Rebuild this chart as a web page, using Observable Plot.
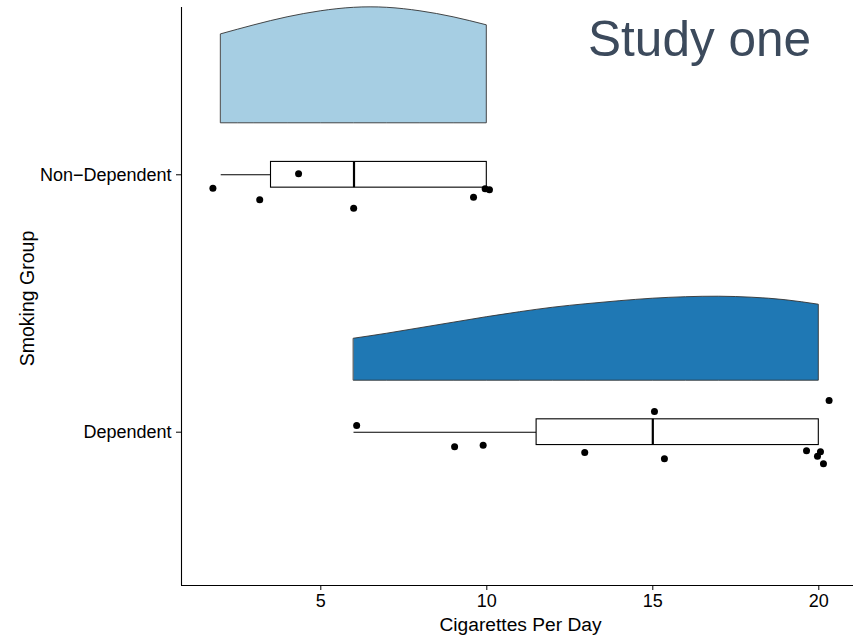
<!DOCTYPE html>
<html><head><meta charset="utf-8">
<script src="https://cdn.jsdelivr.net/npm/d3@7"></script>
<script src="https://cdn.jsdelivr.net/npm/@observablehq/plot@0.6"></script>
<style>body{margin:0;background:#fff;overflow:hidden} svg{display:block}</style>
</head><body><div id="chart"></div>
<script>
// ---- data ----
const groups = ["Non−Dependent", "Dependent"];
const groupFills = ["#a6cee3", "#1f78b4"];
const xTicks = [5, 10, 15, 20];
const xLabel = "Cigarettes Per Day";
const yLabel = "Smoking Group";
const titleText = "Study one";

// raw cigarettes-per-day values
const rawNonDep = [2, 3, 4, 6, 10, 10, 10];
const rawDep = [6, 9, 10, 13, 15, 15, 20, 20, 20, 20, 20];

// jittered positions of the points
const jitterXNonDep = [1.75, 3.16, 4.33, 5.99, 9.60, 9.95, 10.08];
const jitterYNonDep = [-0.052, -0.097, 0.004, -0.130, -0.087, -0.054, -0.058];
const jitterXDep = [6.08, 9.03, 9.89, 12.95, 15.05, 15.35, 19.63, 19.96, 20.05, 20.14, 20.31];
const jitterYDep = [0.026, -0.057, -0.051, -0.079, 0.080, -0.103, -0.072, -0.093, -0.076, -0.123, 0.123];

// density estimates (trimmed to the data range)
const densGridNonDep = [2, 3, 4, 5, 6, 7, 8, 9, 10];
const densNonDep = [0.089, 0.098, 0.106, 0.112, 0.1155, 0.1155, 0.112, 0.106, 0.098];
const densGridDep = [6, 7, 8, 9, 10, 11, 12, 13, 14, 15, 16, 17, 18, 19, 20];
const densDep = [0.042, 0.047, 0.0525, 0.058, 0.0635, 0.0685, 0.073, 0.0765, 0.0795, 0.082, 0.0835, 0.084, 0.083, 0.0805, 0.076];

// ---- layout constants ----
const W = 853, H = 641;
const xDomain = [0.804, 21.045];
const yDomain = [0.4044, 2.6499];
const densOffset = 0.2;     // gap between group line and density base
const densScale = 3.885;    // y-units per density unit
const boxHalf = 0.05;
const font = "'Liberation Sans', Arial, Helvetica, sans-serif";

const raw = [rawNonDep, rawDep];
const jx = [jitterXNonDep, jitterXDep];
const jy = [jitterYNonDep, jitterYDep];
const dg = [densGridNonDep, densGridDep];
const dv = [densNonDep, densDep];
const pos = i => groups.length - i; // Non-Dependent = 2, Dependent = 1

const boxes = groups.map((g, i) => {
  const v = raw[i].slice().sort(d3.ascending);
  const q1 = d3.quantile(v, 0.25), med = d3.quantile(v, 0.5), q3 = d3.quantile(v, 0.75);
  const iqr = q3 - q1;
  const lo = d3.min(v.filter(d => d >= q1 - 1.5 * iqr));
  const hi = d3.max(v.filter(d => d <= q3 + 1.5 * iqr));
  return {g, p: pos(i), q1, med, q3, lo, hi};
});

const points = groups.flatMap((g, i) => jx[i].map((x, k) => ({g, x, y: pos(i) + jy[i][k]})));

const densMarks = groups.map((g, i) => {
  const rows = dg[i].map((x, k) => ({x, y1: pos(i) + densOffset, y2: pos(i) + densOffset + dv[i][k] * densScale}));
  return Plot.areaY(rows, {x: "x", y1: "y1", y2: "y2", fill: groupFills[i], stroke: "#333", strokeWidth: 0.9, curve: "natural"});
});

const chart = Plot.plot({
  width: W, height: H,
  marginLeft: 181, marginRight: 0, marginTop: 7, marginBottom: 56,
  style: {fontFamily: font, fontSize: "18px", color: "black", background: "white"},
  x: {domain: xDomain, label: null},
  y: {domain: yDomain, label: null},
  marks: [
    ...densMarks,
    Plot.ruleY(boxes, {y: "p", x1: "lo", x2: "q1", stroke: "black", strokeWidth: 1.1}),
    Plot.ruleY(boxes, {y: "p", x1: "q3", x2: "hi", stroke: "black", strokeWidth: 1.1}),
    Plot.rect(boxes, {x1: "q1", x2: "q3", y1: d => d.p - boxHalf, y2: d => d.p + boxHalf, fill: "white", stroke: "black", strokeWidth: 1.1}),
    Plot.ruleX(boxes, {x: "med", y1: d => d.p - boxHalf, y2: d => d.p + boxHalf, stroke: "black", strokeWidth: 2.2}),
    Plot.dot(points, {x: "x", y: "y", r: 3.5, fill: "black", stroke: null}),
    Plot.ruleX([xDomain[0]], {stroke: "black", strokeWidth: 1.1}),
    Plot.ruleY([yDomain[0]], {stroke: "black", strokeWidth: 1.1}),
    Plot.axisX({ticks: xTicks, tickSize: 5, tickPadding: 4, fontSize: "18px", label: null}),
    Plot.axisY({ticks: groups.map((g, i) => pos(i)), tickFormat: d => groups[groups.length - d], tickSize: 5, tickPadding: 5, fontSize: "18px", label: null}),
    Plot.text([xLabel], {frameAnchor: "bottom", dy: 45, dx: 3, lineAnchor: "bottom", fontSize: 19.2, fill: "black"}),
    Plot.text([yLabel], {frameAnchor: "left", rotate: -90, dx: -148, dy: 2, lineAnchor: "bottom", textAnchor: "middle", fontSize: 19.5, fill: "black"}),
    Plot.text([titleText], {frameAnchor: "top-right", dx: -42.5, dy: 13, textAnchor: "end", lineAnchor: "top", fontSize: 49.5, fill: "#3c4a5c"})
  ]
});
document.getElementById("chart").appendChild(chart);
</script>
</body></html>
